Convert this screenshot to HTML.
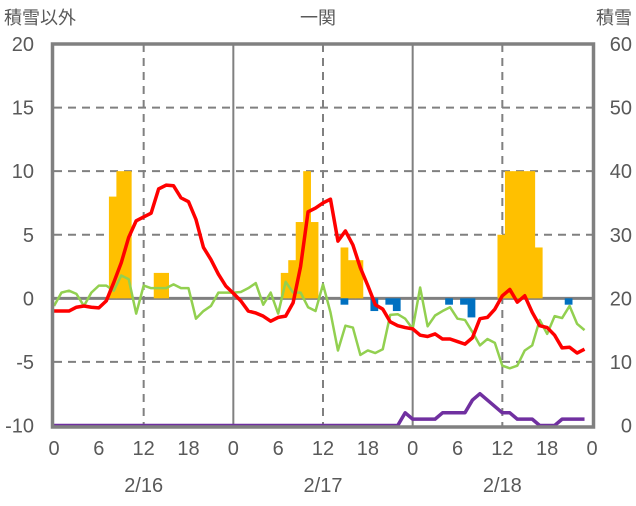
<!DOCTYPE html>
<html><head><meta charset="utf-8"><style>
html,body{margin:0;padding:0;background:#fff;}
svg text{font-family:"Liberation Sans","Noto Sans CJK JP",sans-serif;fill:#595959;}
</style></head><body>
<svg id="chart" width="636" height="501" viewBox="0 0 636 501" xmlns="http://www.w3.org/2000/svg">
<g id="grid"></g>
<g id="bars"></g>
<g id="lines"></g>
<g id="frame"></g>
<g id="labels"></g>
<text x="4" y="24" font-size="18">積雪以外</text>
<text x="318" y="24" font-size="18" text-anchor="middle">一関</text>
<text x="632" y="24" font-size="18" text-anchor="end">積雪</text>
</svg>
<script>
const leftTicks=[20,15,10,5,0,-5,-10];
const rightTicks=[60,50,40,30,20,10,0];
const hourLabels=["0","6","12","18","0","6","12","18","0","6","12","18","0"];
const dayLabels=["2/16","2/17","2/18"];
const barHours=[7,8,9,13,14,30,31,32,33,34,38,39,40,59,60,61,62,63,64];
const barValues=[8,10,10,2,2,2,3,6,10,6,4,3,3,5,10,10,10,10,4];
const negHours=[38,42,44,45,52,54,55,68];
const negValues=[-0.5,-1,-0.5,-1,-0.5,-0.5,-1.5,-0.5];
const redSeries=[-1,-1,-1,-0.7,-0.6,-0.7,-0.75,-0.2,1.25,2.8,4.8,6.1,6.4,6.7,8.6,8.9,8.85,7.9,7.6,6.2,4.0,3.05,1.9,0.96,0.4,-0.2,-1.0,-1.15,-1.4,-1.8,-1.5,-1.4,-0.35,2.5,6.8,7.1,7.5,7.8,4.5,5.3,4.2,2.4,1.0,-0.5,-0.85,-1.85,-2.15,-2.3,-2.4,-2.9,-3.0,-2.8,-3.2,-3.2,-3.4,-3.6,-3.1,-1.6,-1.5,-0.85,0.2,0.7,-0.3,0.2,-1.1,-2.15,-2.3,-2.9,-3.9,-3.85,-4.3,-4.0];
const greenSeries=[-0.6,0.45,0.6,0.35,-0.6,0.45,1.0,1.0,0.6,1.8,1.5,-1.2,1.0,0.8,0.8,0.8,1.1,0.8,0.8,-1.6,-1.0,-0.6,0.45,0.45,0.45,0.5,0.8,1.2,-0.5,0.45,-1.2,1.3,0.45,0.45,-0.7,-1.0,1.1,-1.1,-4.1,-2.15,-2.3,-4.45,-4.1,-4.3,-4.0,-1.3,-1.25,-1.6,-2.4,0.85,-2.2,-1.35,-1.0,-0.7,-1.6,-1.7,-2.65,-3.7,-3.2,-3.5,-5.3,-5.5,-5.3,-4.1,-3.7,-1.7,-2.8,-1.4,-1.55,-0.6,-2.0,-2.5];
const snowSeries=[0,0,0,0,0,0,0,0,0,0,0,0,0,0,0,0,0,0,0,0,0,0,0,0,0,0,0,0,0,0,0,0,0,0,0,0,0,0,0,0,0,0,0,0,0,0,0,2,1,1,1,1,2,2,2,2,4,5,4,3,2,2,1,1,1,0,0,0,1,1,1,1];

const NS="http://www.w3.org/2000/svg";
const X0=54,X1=592,YT=44,YB=425.5;
const xh=h=>X0+h*(X1-X0)/72;
const yl=v=>YT+(20-v)*(YB-YT)/30;
const yr=v=>YB-v*(YB-YT)/60;
function mk(tag,attrs,parent){const e=document.createElementNS(NS,tag);for(const k in attrs)e.setAttribute(k,attrs[k]);parent.appendChild(e);return e;}
const grid=document.getElementById('grid'),bars=document.getElementById('bars'),lines=document.getElementById('lines'),frame=document.getElementById('frame'),labels=document.getElementById('labels');
leftTicks.forEach(v=>{
  if(v===20||v===-10||v===0)return;
  const l=mk('line',{x1:X0,x2:X1,y1:yl(v),y2:yl(v),stroke:'#808080','stroke-width':2,'stroke-dasharray':'8,6'},grid);
  
  
});
[12,36,60].forEach(h=>{
  const l=mk('line',{x1:xh(h),x2:xh(h),y1:YT,y2:YB,stroke:'#808080','stroke-width':2,'stroke-dasharray':'8,6'},grid);
  
  
});
[24,48].forEach(h=>{
  const l=mk('line',{x1:xh(h),x2:xh(h),y1:YT,y2:YB,stroke:'#808080','stroke-width':2},grid);
  
  
});
const bw=(X1-X0)/72;
barHours.forEach((h,i)=>{
  const v=barValues[i];
  const r=mk('rect',{x:xh(h+0.85)-bw/2,y:yl(v),width:bw+0.3,height:yl(0)-yl(v),fill:'#FFC000'},bars);
  
  
});
negHours.forEach((h,i)=>{
  const v=negValues[i];
  const r=mk('rect',{x:xh(h+0.85)-bw/2,y:yl(0),width:bw+0.3,height:yl(v)-yl(0),fill:'#0070C0'},bars);
  
  
});
const z=mk('line',{x1:X0,x2:X1,y1:yl(0),y2:yl(0),stroke:'#808080','stroke-width':3},grid);


function series(arr,yf,color,w,name){
  const p=mk('polyline',{points:arr.map((v,i)=>xh(i)+','+yf(v)).join(' '),fill:'none',stroke:color,'stroke-width':w,'stroke-linejoin':'round'},lines);
  
  
}
series(greenSeries,yl,'#92D050',2.5,'green-series');
series(redSeries,yl,'#FF0000',3.5,'red-series');
series(snowSeries,yr,'#7030A0',3.5,'snow-depth-series');
const b=mk('rect',{x:X0-1.5,y:YT,width:X1-X0+3,height:YB-YT+1.5,fill:'none',stroke:'#808080','stroke-width':3.5},frame);


leftTicks.forEach(v=>{
  const t=mk('text',{x:34,y:yl(v)+7,'font-size':20,'text-anchor':'end'},labels);
  t.textContent=v;
  
  
});
rightTicks.forEach(v=>{
  const t=mk('text',{x:632,y:yr(v)+7,'font-size':20,'text-anchor':'end'},labels);
  t.textContent=v;
  
  
});
hourLabels.forEach((s,i)=>{
  const t=mk('text',{x:xh(i*6),y:455,'font-size':20,'text-anchor':'middle'},labels);
  t.textContent=s;
  
  
});
dayLabels.forEach((s,i)=>{
  const t=mk('text',{x:xh(12+24*i),y:492,'font-size':20,'text-anchor':'middle'},labels);
  t.textContent=s;
  
  
});
</script>
</body></html>
